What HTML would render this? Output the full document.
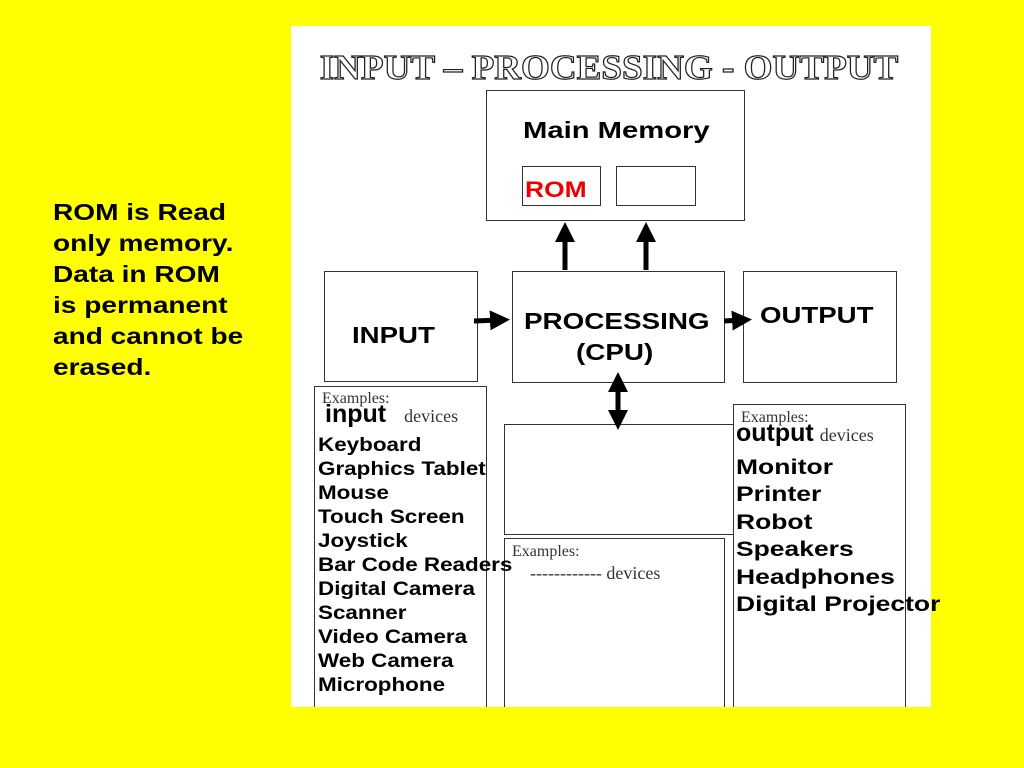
<!DOCTYPE html><html><head><style>
body{margin:0;width:1024px;height:768px;background:#ffff00;position:relative;overflow:hidden;font-family:"Liberation Sans",sans-serif}
.a{position:absolute}
.b{position:absolute;border:1.5px solid #333;background:#fff;box-sizing:border-box}
.nb{border-bottom:none}
.bold{font-weight:bold;color:#000;transform-origin:left top}
.ser{font-family:"Liberation Serif",serif;color:#333}
</style></head><body>
<div class="a" style="left:291px;top:26px;width:640px;height:681px;background:#fff"></div>
<div class="a" style="left:318px;top:48px;width:582px;text-align:center;font-family:'Liberation Serif',serif;font-size:35px;font-weight:bold;color:#fff;-webkit-text-stroke:1.2px #222;white-space:nowrap;transform:scaleX(1.06);transform-origin:center top">INPUT – PROCESSING - OUTPUT</div>
<div class="a bold" style="left:53px;top:197px;font-size:23px;line-height:31px;transform:scaleX(1.22);white-space:nowrap">ROM is Read<br>only memory.<br>Data in ROM<br>is permanent<br>and cannot be<br>erased.</div>
<div class="b" style="left:486px;top:90px;width:259px;height:131px"></div>
<div class="a bold" style="left:523px;top:117px;font-size:23px;transform:scaleX(1.27);white-space:nowrap">Main Memory</div>
<div class="b" style="left:522px;top:166px;width:79px;height:40px"></div>
<div class="a bold" style="left:525px;top:177px;font-size:22px;color:#e00;transform:scaleX(1.2)">ROM</div>
<div class="b" style="left:616px;top:166px;width:80px;height:40px"></div>
<div class="b" style="left:324px;top:271px;width:154px;height:111px"></div>
<div class="a bold" style="left:352px;top:322px;font-size:23px;transform:scaleX(1.2)">INPUT</div>
<div class="b" style="left:512px;top:271px;width:213px;height:112px"></div>
<div class="a bold" style="left:524px;top:306px;font-size:23px;line-height:31px;transform:scaleX(1.21);white-space:nowrap">PROCESSING</div>
<div class="a bold" style="left:576px;top:337px;font-size:23px;line-height:31px;transform:scaleX(1.21);white-space:nowrap">(CPU)</div>
<div class="b" style="left:743px;top:271px;width:154px;height:112px"></div>
<div class="a bold" style="left:760px;top:302px;font-size:23px;transform:scaleX(1.2)">OUTPUT</div>
<div class="b nb" style="left:314px;top:386px;width:173px;height:321px"></div>
<div class="b" style="left:504px;top:424px;width:230px;height:111px"></div>
<div class="b nb" style="left:504px;top:538px;width:221px;height:169px"></div>
<div class="b nb" style="left:733px;top:404px;width:173px;height:303px"></div>
<div class="a ser" style="left:322px;top:390px;font-size:16px">Examples:</div>
<div class="a" style="left:325px;top:400px;font-size:25px;font-weight:bold;white-space:nowrap">input<span class="ser" style="font-weight:normal;font-size:18px;margin-left:18px">devices</span></div>
<div class="a bold" style="left:318px;top:434px;font-size:19px;line-height:24px;white-space:nowrap;transform:scaleX(1.18)">Keyboard<br>Graphics Tablet<br>Mouse<br>Touch Screen<br>Joystick<br>Bar Code Readers<br>Digital Camera<br>Scanner<br>Video Camera<br>Web Camera<br>Microphone</div>
<div class="a ser" style="left:741px;top:409px;font-size:16px">Examples:</div>
<div class="a" style="left:736px;top:419px;font-size:25px;font-weight:bold;white-space:nowrap">output<span class="ser" style="font-weight:normal;font-size:18px;margin-left:6px">devices</span></div>
<div class="a bold" style="left:736px;top:454px;font-size:21px;line-height:27.4px;white-space:nowrap;transform:scaleX(1.26)">Monitor<br>Printer<br>Robot<br>Speakers<br>Headphones<br>Digital Projector</div>
<div class="a ser" style="left:512px;top:543px;font-size:16px">Examples:</div>
<div class="a ser" style="left:530px;top:563px;font-size:18px;white-space:nowrap">------------ devices</div>
<svg class="a" style="left:0;top:0" width="1024" height="768">
<defs><marker id="m" markerWidth="4" markerHeight="4" refX="2" refY="2" orient="auto"><path d="M0,0L4,2L0,4z" fill="#000"/></marker></defs>
<g stroke="#000" stroke-width="5" fill="none">
<line x1="565" y1="270" x2="565" y2="232" marker-end="url(#m)"/>
<line x1="646" y1="270" x2="646" y2="232" marker-end="url(#m)"/>
<line x1="474" y1="321" x2="500" y2="320" marker-end="url(#m)"/>
<line x1="724" y1="321" x2="742" y2="320" marker-end="url(#m)"/>
<line x1="618" y1="385" x2="618" y2="420" marker-end="url(#m)"/>
<line x1="618" y1="420" x2="618" y2="382" marker-end="url(#m)"/>
</g></svg>
</body></html>
